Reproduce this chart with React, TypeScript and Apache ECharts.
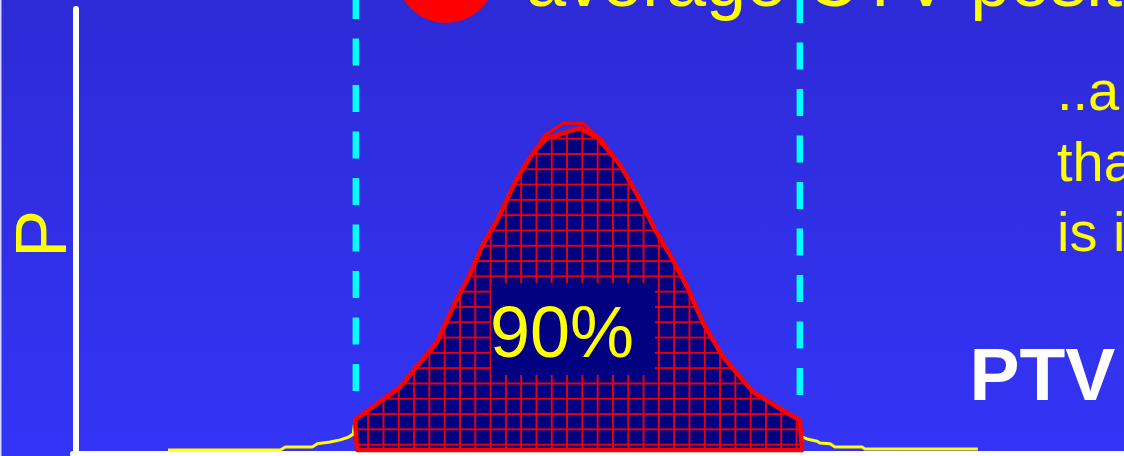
import { useEffect, useRef } from "react";
import * as echarts from "echarts";

const FONT = "'Liberation Sans', Arial, Helvetica, sans-serif";

// Position (mm) versus relative probability P
const leftTailX = [-9.23, -6.7, -6.59, -5.98, -5.87, -5.58, -5.35, -5.17, -5.06];
const leftTailP = [0, 0, 0.007, 0.007, 0.014, 0.018, 0.023, 0.029, 0.036];

const topX = [-5.02, -4.0, -3.17, -2.77, -2.47, -2.14, -1.8, -1.41, -1.14, -0.96, -0.69, 0.05, 0.45, 0.77, 0.95, 1.11, 1.4, 1.74, 2.14, 2.46, 2.82, 3.27, 3.94, 4.71, 5.0];
const topP = [0.068, 0.143, 0.245, 0.333, 0.39, 0.465, 0.524, 0.608, 0.653, 0.68, 0.707, 0.73, 0.707, 0.669, 0.646, 0.619, 0.567, 0.499, 0.431, 0.37, 0.288, 0.211, 0.132, 0.084, 0.068];

const rightTailX = [5.0, 5.16, 5.39, 5.45, 5.68, 5.79, 6.4, 6.47, 9.01];
const rightTailP = [0.032, 0.025, 0.02, 0.016, 0.014, 0.007, 0.007, 0.002, 0.002];

const capX = [-1.14, -0.74, -0.33, 0.12, 0.34, 0.55, 0.77];
const capP = [0.653, 0.714, 0.741, 0.741, 0.719, 0.703, 0.669];

const regionBaseX = [-4.97, 5.05];
const marginX = [-5, 5];
const marginTopP = [1.0385, 1.0295];
const marginBottomP = [0.1247, 0.1134];

const titleText = "average CTV posit";
const sideLines = ["..a", "tha", "is i"];
const regionLabel = "90%";
const volumeLabel = "PTV";
const yLabel = "P";

export default function App() {
  const ref = useRef<HTMLDivElement>(null);

  useEffect(() => {
    document.body.style.margin = "0";
    if (!ref.current) return;
    const chart = echarts.init(ref.current, undefined, { renderer: "svg" });

    const tile = document.createElement("canvas");
    tile.width = 46;
    tile.height = 46;
    const ctx = tile.getContext("2d")!;
    ctx.fillStyle = "#000080";
    ctx.fillRect(0, 0, 46, 46);
    ctx.fillStyle = "#e8000e";
    ctx.fillRect(0, 0, 6, 46);
    ctx.fillRect(0, 0, 46, 6);
    const pattern: any = {
      image: tile,
      repeat: "repeat",
      imageWidth: 15.3,
      imageHeight: 15.3,
      x: 9.5,
      y: 14.7,
    };

    const topData = topX.map((x, i) => [x, topP[i]]);
    const yellowData = [
      ...leftTailX.map((x, i) => [x, leftTailP[i]]),
      ...topData,
      ...rightTailX.map((x, i) => [x, rightTailP[i]]),
    ];
    const polyData = [[regionBaseX[0], 0], ...topData, [regionBaseX[1], 0]];
    const capData = capX.map((x, i) => [x, capP[i]]);

    const txt = (
      text: string,
      x: number,
      y: number,
      size: number,
      fill: string,
      extra: any = {},
      bold = false
    ) => ({
      type: "text",
      x,
      y,
      z: 20,
      silent: true,
      ...extra,
      style: {
        text,
        fill,
        font: `${bold ? "bold " : ""}${size}px ${FONT}`,
        align: extra.align || "left",
        textAlign: extra.align || "left",
        verticalAlign: "middle",
        textVerticalAlign: "middle",
      },
    });

    const option: any = {
      animation: false,
      backgroundColor: "transparent",
      grid: { left: 73, right: 0, top: 9, bottom: 6, containLabel: false },
      xAxis: {
        type: "value",
        min: -11.37,
        max: 12.3,
        offset: 3.5,
        axisLine: { show: true, onZero: false, lineStyle: { color: "#ffffff", width: 6 } },
        axisTick: { show: false },
        axisLabel: { show: false },
        splitLine: { show: false },
      },
      yAxis: {
        type: "value",
        min: 0,
        max: 1,
        offset: -3,
        axisLine: { show: true, onZero: false, lineStyle: { color: "#ffffff", width: 6 } },
        axisTick: { show: false },
        axisLabel: { show: false },
        splitLine: { show: false },
      },
      series: [
        {
          type: "line",
          data: yellowData,
          symbol: "none",
          z: 2,
          silent: true,
          lineStyle: { color: "#ffff00", width: 3 },
        },
        {
          type: "custom",
          coordinateSystem: "cartesian2d",
          data: polyData,
          z: 3,
          silent: true,
          renderItem: (params: any, api: any) => {
            if (params.dataIndex !== 0) return null;
            const pts = polyData.map((d) => api.coord(d));
            return {
              type: "polygon",
              shape: { points: pts },
              style: { fill: pattern, stroke: "#ff0000", lineWidth: 4.5, lineJoin: "round" },
            };
          },
        },
        {
          type: "line",
          data: capData,
          symbol: "none",
          z: 4,
          silent: true,
          lineStyle: { color: "#ff0000", width: 3 },
        },
        ...marginX.map((x, i) => ({
          type: "line",
          data: [
            [x, marginTopP[i]],
            [x, marginBottomP[i]],
          ],
          symbol: "none",
          clip: false,
          z: 5,
          silent: true,
          lineStyle: { color: "#00ffff", width: 6.5, type: [27, 19.5], cap: "butt" },
        })),
      ],
      graphic: [
        { type: "rect", z: 20, silent: true, shape: { x: 0, y: 0, width: 1.5, height: 456 }, style: { fill: "#d8d8ff" } },
        { type: "circle", z: 20, silent: true, shape: { cx: 446, cy: -27, r: 50 }, style: { fill: "#ff0000" } },
        txt(titleText, 526, -19, 72, "#ffff00"),
        ...sideLines.map((t, i) => txt(t, 1057, 90.6 + i * 70.5, 56, "#ffff00")),
        txt(volumeLabel, 969.5, 374, 75, "#ffffff", {}, true),
        txt(yLabel, 41, 234, 72, "#ffff00", { rotation: Math.PI / 2, align: "center" }),
        { type: "rect", z: 20, silent: true, shape: { x: 491, y: 283, width: 164, height: 92 }, style: { fill: "#000080" } },
        txt(regionLabel, 490, 332, 72, "#ffff00"),
      ],
    };

    chart.setOption(option);
    return () => chart.dispose();
  }, []);

  return (
    <div
      ref={ref}
      style={{
        position: "absolute",
        left: 0,
        top: 0,
        width: 1124,
        height: 456,
        background: "linear-gradient(180deg, #2d2bd6 0%, #3434f6 100%)",
      }}
    />
  );
}
